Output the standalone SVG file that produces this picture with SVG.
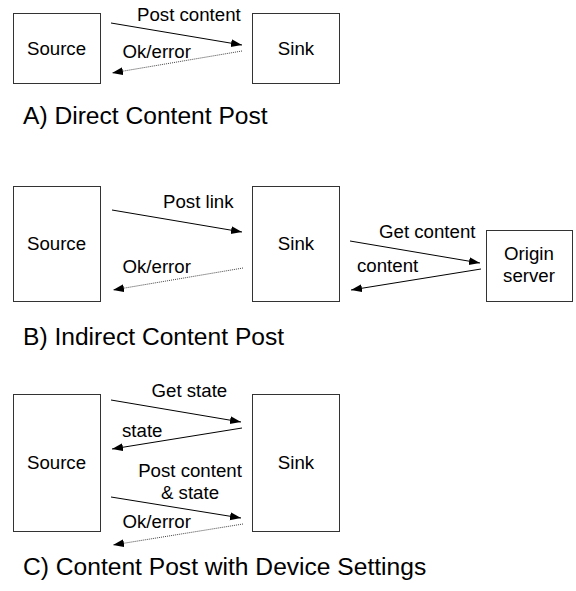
<svg xmlns="http://www.w3.org/2000/svg" width="576" height="591" viewBox="0 0 576 591">
<style>
.box{fill:#fff;stroke:#333;stroke-width:1}
.lbl{font-family:"Liberation Sans",Arial,sans-serif;font-size:18.67px;fill:#000}
.mid{text-anchor:middle}
.ttl{font-family:"Liberation Sans",Arial,sans-serif;font-size:24.6px;fill:#000}
.ln{stroke:#000;stroke-width:1;fill:none;marker-end:url(#ah)}
.dot{stroke:#444;stroke-width:1;stroke-dasharray:1,1;fill:none;marker-end:url(#ah)}
</style>
<defs>
<marker id="ah" markerUnits="userSpaceOnUse" markerWidth="12" markerHeight="9" refX="11" refY="4" orient="auto" viewBox="0 0 12 9">
<path d="M0,0 L11,4 L0,8 z" fill="#000"/>
</marker>
</defs>
<rect width="576" height="591" fill="#fff"/>
<g id="a-source"><rect class="box" x="13.5" y="13.5" width="87" height="70"/><text class="lbl mid" x="56.5" y="55">Source</text></g>
<g id="a-sink"><rect class="box" x="252.5" y="13.5" width="87" height="70"/><text class="lbl mid" x="296" y="55">Sink</text></g>
<g id="b-source"><rect class="box" x="13.5" y="186.5" width="87" height="115"/><text class="lbl mid" x="56.5" y="249.5">Source</text></g>
<g id="b-sink"><rect class="box" x="252.5" y="186.5" width="87" height="115"/><text class="lbl mid" x="296" y="249.5">Sink</text></g>
<g id="b-origin"><rect class="box" x="486.5" y="230.5" width="86" height="71"/><text class="lbl mid" x="529" y="260">Origin</text><text class="lbl mid" x="529" y="282">server</text></g>
<g id="c-source"><rect class="box" x="13.5" y="394.5" width="87" height="137"/><text class="lbl mid" x="56.5" y="469">Source</text></g>
<g id="c-sink"><rect class="box" x="252.5" y="394.5" width="87" height="137"/><text class="lbl mid" x="296" y="469">Sink</text></g>
<g id="connectors">
<line class="ln" x1="111" y1="23" x2="242" y2="45"/>
<line class="dot" x1="242" y1="51" x2="112" y2="73"/>
<line class="ln" x1="112" y1="210" x2="242" y2="232"/>
<line class="dot" x1="243" y1="268" x2="113" y2="290"/>
<line class="ln" x1="350" y1="241" x2="480" y2="263"/>
<line class="ln" x1="481" y1="269" x2="351" y2="290"/>
<line class="ln" x1="111" y1="400" x2="241" y2="422"/>
<line class="ln" x1="242" y1="428" x2="112" y2="449"/>
<line class="ln" x1="111" y1="497" x2="241" y2="518"/>
<line class="dot" x1="243" y1="524" x2="113" y2="545"/>
</g>
<g id="labels">
<text class="lbl" x="137" y="21">Post content</text>
<text class="lbl" x="122.5" y="58">Ok/error</text>
<text class="lbl" x="163" y="208">Post link</text>
<text class="lbl" x="122.5" y="273">Ok/error</text>
<text class="lbl" x="379" y="238">Get content</text>
<text class="lbl" x="357" y="271.5">content</text>
<text class="lbl" x="151.5" y="397">Get state</text>
<text class="lbl" x="122" y="436.5">state</text>
<text class="lbl mid" x="190" y="476.5">Post content</text>
<text class="lbl mid" x="190" y="499">&amp; state</text>
<text class="lbl" x="122.5" y="528">Ok/error</text>
</g>
<g id="titles">
<text class="ttl" x="23" y="124">A) Direct Content Post</text>
<text class="ttl" x="23" y="345">B) Indirect Content Post</text>
<text class="ttl" x="23" y="575">C) Content Post with Device Settings</text>
</g>
</svg>
